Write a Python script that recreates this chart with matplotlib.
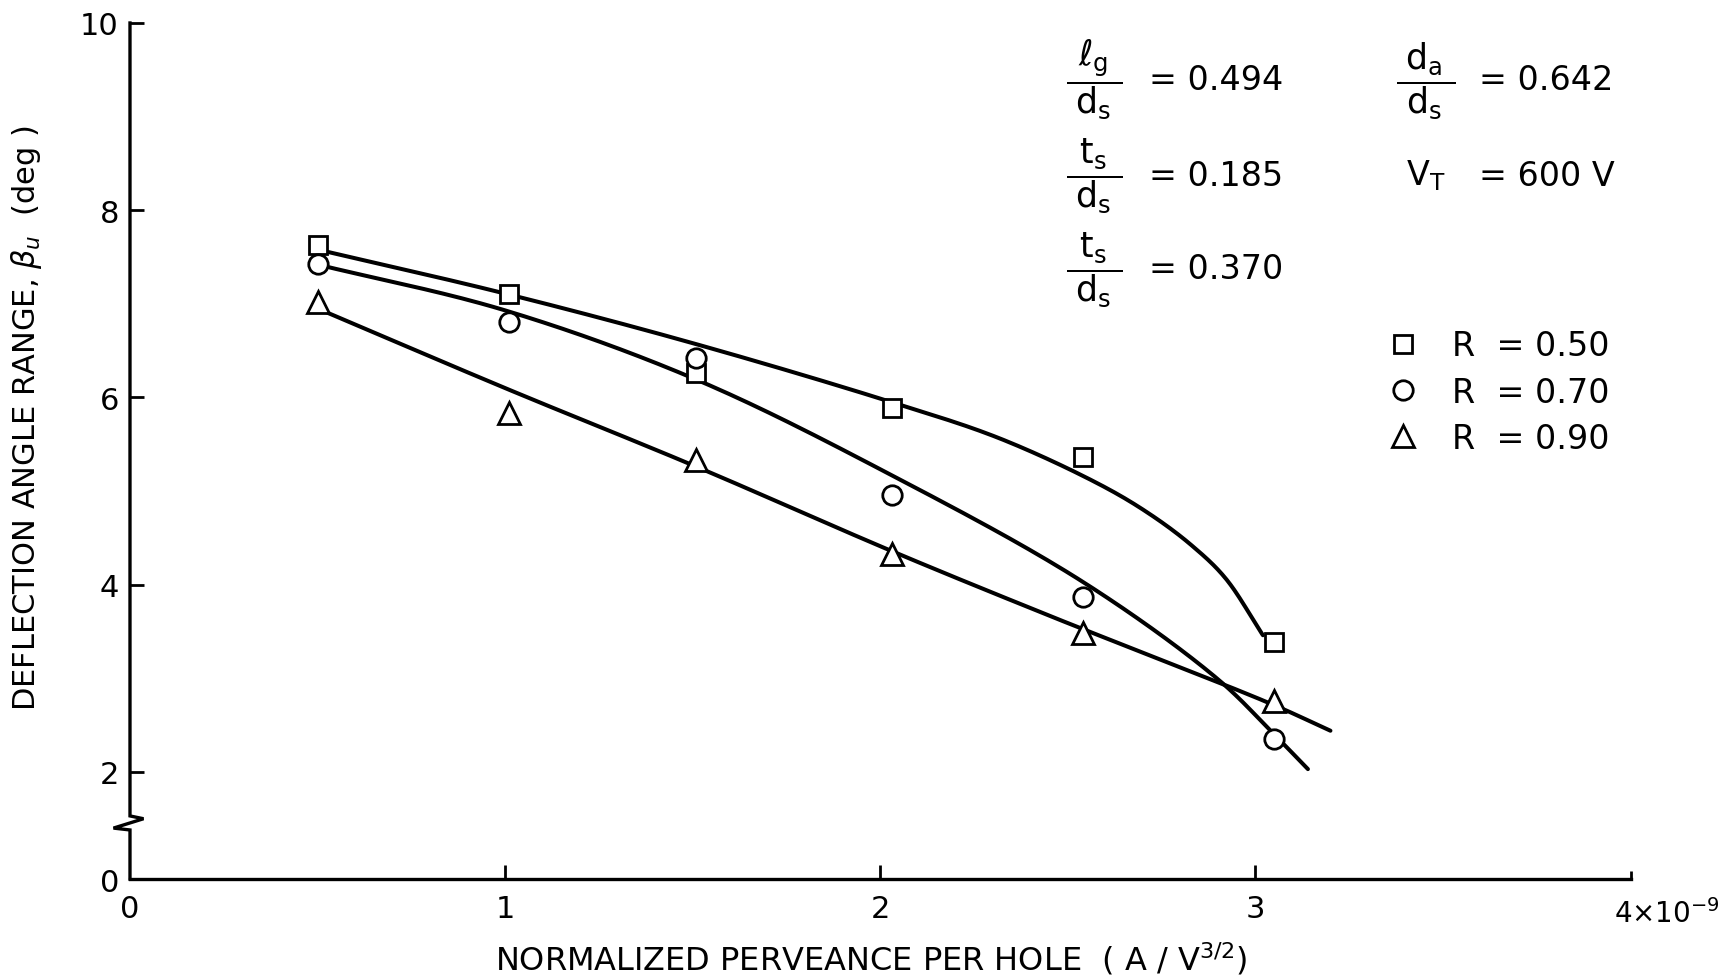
import numpy as np
import matplotlib.pyplot as plt

# measured points (x in units of 1e-9 A/V^1.5, y in degrees)
perveance = [0.50, 1.01, 1.51, 2.03, 2.54, 3.05]
beta_r050 = [7.63, 7.11, 6.26, 5.89, 5.36, 3.39]
beta_r070 = [7.43, 6.81, 6.42, 4.96, 3.87, 2.35]
beta_r090 = [7.02, 5.83, 5.33, 4.33, 3.48, 2.76]

# hand-drawn fit curves
fit_r050_x = [0.50, 1.00, 1.50, 2.03, 2.32, 2.59, 2.72, 2.83, 2.92, 3.02]
fit_r050_y = [7.58, 7.11, 6.58, 5.95, 5.56, 5.06, 4.75, 4.42, 4.07, 3.46]
fit_r070_x = [0.50, 1.00, 1.51, 2.03, 2.54, 2.90, 3.05, 3.14]
fit_r070_y = [7.42, 6.93, 6.19, 5.17, 4.03, 2.99, 2.40, 2.03]
fit_r090_x = [0.50, 1.00, 1.51, 2.03, 2.45, 3.04, 3.20]
fit_r090_y = [6.95, 6.10, 5.26, 4.36, 3.67, 2.73, 2.44]

labels = ["R  = 0.50", "R  = 0.70", "R  = 0.90"]
x_ticks = [0, 1, 2, 3, 4]
x_ticklabels = ["0", "1", "2", "3", ""]
y_floor = 0.856   # where the broken axis puts "0"
y_ticks = [y_floor, 2, 4, 6, 8, 10]
y_ticklabels = ["0", "2", "4", "6", "8", "10"]


def smooth(xs, ys, n=30, kx=375.0, ky=93.5):
    # centripetal catmull-rom, done in (roughly) screen-proportional units
    p = np.column_stack([np.asarray(xs) * kx, np.asarray(ys) * ky])
    p = np.vstack([2 * p[0] - p[1], p, 2 * p[-1] - p[-2]])
    out = []
    for i in range(1, len(p) - 2):
        P0, P1, P2, P3 = p[i - 1], p[i], p[i + 1], p[i + 2]
        t0 = 0.0
        t1 = t0 + np.linalg.norm(P1 - P0) ** 0.5
        t2 = t1 + np.linalg.norm(P2 - P1) ** 0.5
        t3 = t2 + np.linalg.norm(P3 - P2) ** 0.5
        t = np.linspace(t1, t2, n, endpoint=False)[:, None]
        A1 = (t1 - t) / (t1 - t0) * P0 + (t - t0) / (t1 - t0) * P1
        A2 = (t2 - t) / (t2 - t1) * P1 + (t - t1) / (t2 - t1) * P2
        A3 = (t3 - t) / (t3 - t2) * P2 + (t - t2) / (t3 - t2) * P3
        B1 = (t2 - t) / (t2 - t0) * A1 + (t - t0) / (t2 - t0) * A2
        B2 = (t3 - t) / (t3 - t1) * A2 + (t - t1) / (t3 - t1) * A3
        out.append((t2 - t) / (t2 - t1) * B1 + (t - t1) / (t2 - t1) * B2)
    out.append(p[-2][None])
    s = np.vstack(out)
    return s[:, 0] / kx, s[:, 1] / ky


fig = plt.figure(figsize=(17.24, 9.79), dpi=100)
ax = fig.add_axes([0.0754, 0.1011, 0.8704, 0.8744])

for fx, fy in [(fit_r050_x, fit_r050_y), (fit_r070_x, fit_r070_y), (fit_r090_x, fit_r090_y)]:
    sx, sy = smooth(fx, fy)
    ax.plot(sx, sy, color="black", lw=2.9, solid_capstyle="round", zorder=2)

mk = dict(ls="none", mfc="white", mec="black", mew=2, zorder=3)
h1, = ax.plot(perveance, beta_r050, marker="s", ms=13, label=labels[0], **mk)
h2, = ax.plot(perveance, beta_r070, marker="o", ms=14, label=labels[1], **mk)
h3, = ax.plot(perveance, beta_r090, marker="^", ms=16, label=labels[2], **mk)

ax.set_xlim(0, 4)
ax.set_ylim(y_floor, 10)
ax.set_xticks(x_ticks)
ax.set_xticklabels(x_ticklabels)
ax.set_yticks(y_ticks)
ax.set_yticklabels(y_ticklabels)
ax.tick_params(direction="in", length=10, width=2, labelsize=22)
ax.tick_params(axis="x", pad=11)
ax.tick_params(axis="y", pad=8)
ax.yaxis.get_major_ticks()[0].tick1line.set_visible(False)
ax.xaxis.get_major_ticks()[0].tick1line.set_visible(False)
ax.xaxis.get_major_ticks()[-1].tick1line.set_markersize(6)

for s in ["top", "right", "left"]:
    ax.spines[s].set_visible(False)
ax.spines["bottom"].set_linewidth(2.4)

# left spine with the break mark
ytr = ax.get_yaxis_transform()
ax.plot([0, 0, 0.009, -0.011, 0, 0], [10, 1.53, 1.50, 1.40, 1.38, y_floor],
        transform=ytr, color="black", lw=2.4, clip_on=False, zorder=4,
        solid_joinstyle="miter")

ax.text(3.955, y_floor - 0.2, r"4$\times$10$^{-9}$", ha="left", va="top",
        fontsize=20)

ax.set_xlabel("NORMALIZED PERVEANCE PER HOLE  ( A / V$^{3/2}$)", fontsize=23)
ax.xaxis.set_label_coords(0.494, -0.071)
ax.set_ylabel(r"DEFLECTION ANGLE RANGE, $\beta_u$  (deg )", fontsize=22)
ax.yaxis.set_label_coords(-0.057, 0.54)

# parameter block
tx = ax.transAxes
frac = dict(ha="center", va="center", fontsize=25, transform=tx)
val = dict(ha="left", va="center", fontsize=24, transform=tx)
ax.text(0.6424, 0.9343, r"$\dfrac{\;\ell_\mathrm{g}\;}{\;\mathrm{d_s}\;}$", **frac)
ax.text(0.679, 0.9343, "= 0.494", **val)
ax.text(0.6424, 0.8224, r"$\dfrac{\;\mathrm{t_s}\;}{\;\mathrm{d_s}\;}$", **frac)
ax.text(0.679, 0.8224, "= 0.185", **val)
ax.text(0.6424, 0.7133, r"$\dfrac{\;\mathrm{t_s}\;}{\;\mathrm{d_s}\;}$", **frac)
ax.text(0.679, 0.7133, "= 0.370", **val)
ax.text(0.8637, 0.9343, r"$\dfrac{\;\mathrm{d_a}\;}{\;\mathrm{d_s}\;}$", **frac)
ax.text(0.8989, 0.9343, "= 0.642", **val)
ax.text(0.8637, 0.8224, r"V$_\mathrm{T}$", ha="center", va="center", fontsize=24, transform=tx)
ax.text(0.8989, 0.8224, "= 600 V", **val)

ax.legend(handles=[h1, h2, h3], loc="upper left", bbox_to_anchor=(0.8375, 0.642),
          frameon=False, fontsize=24, handlelength=1.0, handletextpad=0.95,
          labelspacing=0.4, borderpad=0, borderaxespad=0)

fig.savefig("out.png", dpi=100, facecolor="white")
